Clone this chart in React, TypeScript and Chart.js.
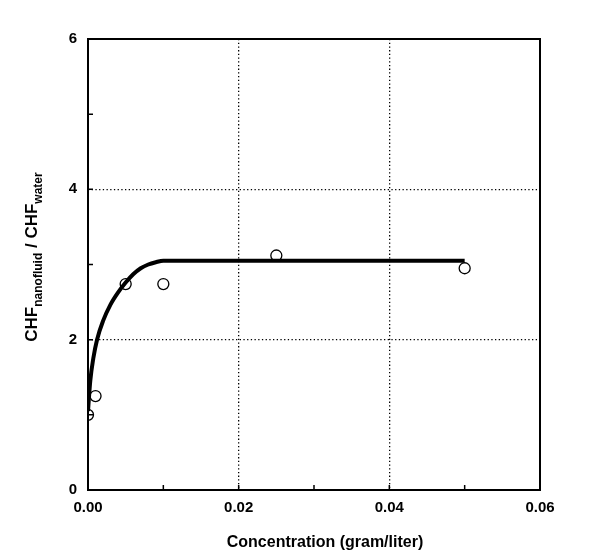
import React, { useEffect, useRef } from "react";
import { Chart, registerables } from "chart.js";

Chart.register(...registerables);

const measuredX = [0, 0.001, 0.005, 0.01, 0.025, 0.05];
const measuredY = [1.0, 1.25, 2.74, 2.74, 3.12, 2.95];

const fitX = [0, 0.0003, 0.0007, 0.0012, 0.002, 0.003, 0.004, 0.005, 0.006, 0.007, 0.008, 0.009, 0.01, 0.05];
const fitY = [1.05, 1.45, 1.75, 2.0, 2.25, 2.47, 2.63, 2.76, 2.87, 2.95, 3.0, 3.03, 3.05, 3.05];

const xTicks = [0, 0.02, 0.04, 0.06];
const yTicks = [0, 2, 4, 6];
const xMinorTicks = [0.01, 0.02, 0.03, 0.04, 0.05];
const yMinorTicks = [1, 2, 3, 4, 5];

const xTitle = "Concentration (gram/liter)";
const yTitleParts = [
  { text: "CHF", sub: false },
  { text: "nanofluid", sub: true },
  { text: " / CHF", sub: false },
  { text: "water", sub: true },
];

const FONT = "'Liberation Sans', Arial, sans-serif";

const decorPlugin = {
  id: "decor",
  afterDatasetsDraw(chart: any) {
    const { ctx, chartArea, scales } = chart;
    const { left, right, top, bottom } = chartArea;
    ctx.save();
    ctx.strokeStyle = "#000";
    ctx.lineWidth = 2;
    ctx.strokeRect(left, top, right - left, bottom - top);
    ctx.lineWidth = 1.5;
    ctx.beginPath();
    for (const v of xMinorTicks) {
      const x = scales.x.getPixelForValue(v);
      ctx.moveTo(x, bottom);
      ctx.lineTo(x, bottom - 5);
    }
    for (const v of yMinorTicks) {
      const y = scales.y.getPixelForValue(v);
      ctx.moveTo(left, y);
      ctx.lineTo(left + 5, y);
    }
    ctx.stroke();

    // x title
    ctx.fillStyle = "#000";
    ctx.font = `bold 16px ${FONT}`;
    ctx.textAlign = "center";
    ctx.textBaseline = "middle";
    ctx.fillText(xTitle, 325, 543);

    // y title with subscripts
    ctx.translate(32, 257);
    ctx.rotate(-Math.PI / 2);
    const mainFont = `bold 17px ${FONT}`;
    const subFont = `bold 12px ${FONT}`;
    let total = 0;
    for (const p of yTitleParts) {
      ctx.font = p.sub ? subFont : mainFont;
      total += ctx.measureText(p.text).width;
    }
    let cx = -total / 2;
    ctx.textAlign = "left";
    ctx.textBaseline = "middle";
    for (const p of yTitleParts) {
      ctx.font = p.sub ? subFont : mainFont;
      ctx.fillText(p.text, cx, p.sub ? 7 : 0);
      cx += ctx.measureText(p.text).width;
    }
    ctx.restore();
  },
};

export default function App() {
  const ref = useRef<HTMLCanvasElement | null>(null);
  useEffect(() => {
    if (!ref.current) return;
    const chart = new Chart(ref.current, {
      type: "scatter",
      data: {
        datasets: [
          {
            type: "line",
            data: fitX.map((x, i) => ({ x, y: fitY[i] })),
            borderColor: "#000",
            borderWidth: 4,
            pointRadius: 0,
            fill: false,
            cubicInterpolationMode: "monotone",
          } as any,
          {
            data: measuredX.map((x, i) => ({ x, y: measuredY[i] })),
            pointRadius: 5.5,
            pointBorderWidth: 1.3,
            pointBackgroundColor: "rgba(0,0,0,0)",
            pointBorderColor: "#000",
          },
        ],
      },
      options: {
        responsive: false,
        animation: false,
        devicePixelRatio: 1,
        layout: { padding: { left: 0, top: 39, right: 60, bottom: 0 } },
        plugins: { legend: { display: false }, tooltip: { enabled: false } },
        scales: {
          x: {
            type: "linear",
            min: 0,
            max: 0.06,
            afterBuildTicks: (s: any) => {
              s.ticks = xTicks.map((v) => ({ value: v }));
            },
            afterFit: (s: any) => {
              s.height = 67;
            },
            ticks: {
              color: "#000",
              font: { family: FONT, size: 15, weight: "bold" },
              padding: 9,
              maxRotation: 0,
              callback: (v: any) => Number(v).toFixed(2),
            },
            grid: {
              drawTicks: false,
              color: (c: any) => (c.tick && (c.tick.value === 0 || c.tick.value === 0.06) ? "rgba(0,0,0,0)" : "#000"),
              lineWidth: 1.3,
            },
            border: { display: false, dash: [1.3, 2.4] },
          } as any,
          y: {
            type: "linear",
            min: 0,
            max: 6,
            afterBuildTicks: (s: any) => {
              s.ticks = yTicks.map((v) => ({ value: v }));
            },
            afterFit: (s: any) => {
              s.width = 88;
            },
            ticks: {
              color: "#000",
              font: { family: FONT, size: 15, weight: "bold" },
              padding: 11,
              callback: (v: any) => String(v),
            },
            grid: {
              drawTicks: false,
              color: (c: any) => (c.tick && (c.tick.value === 0 || c.tick.value === 6) ? "rgba(0,0,0,0)" : "#000"),
              lineWidth: 1.3,
            },
            border: { display: false, dash: [1.3, 2.4] },
          } as any,
        },
      },
      plugins: [decorPlugin],
    } as any);
    return () => chart.destroy();
  }, []);
  return (
    <canvas
      ref={ref}
      width={600}
      height={557}
      style={{ position: "fixed", left: 0, top: 0, width: 600, height: 557, background: "#fff" }}
    />
  );
}
